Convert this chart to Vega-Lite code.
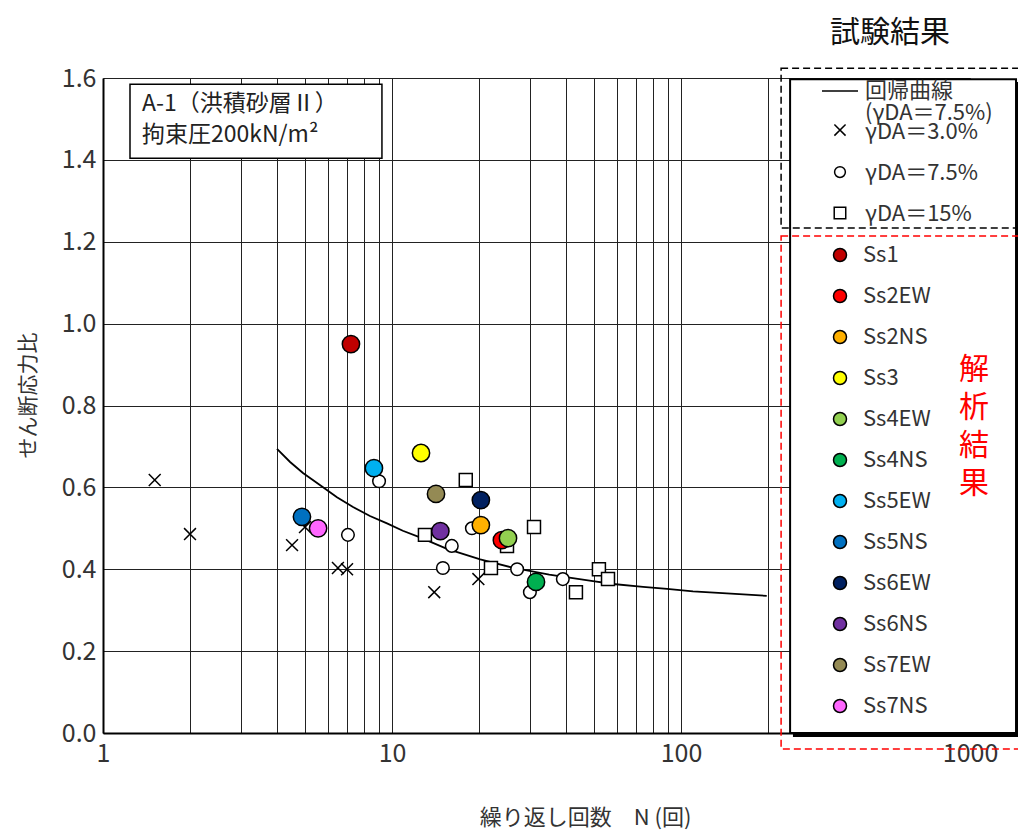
{
  "$schema": "https://vega.github.io/schema/vega-lite/v6.json",
  "width": 867,
  "height": 655,
  "autosize": {"type": "none"},
  "padding": {"left": 103, "top": 78, "right": 48, "bottom": 97},
  "background": "white",
  "config": {"view": {"stroke": null}, "font": "Noto Sans CJK JP"},
  "datasets": {
    "curve": [
      {"N": 4.0, "ratio": 0.694}, {"N": 4.44, "ratio": 0.662}, {"N": 4.92, "ratio": 0.635},
      {"N": 5.63, "ratio": 0.606}, {"N": 6.45, "ratio": 0.576}, {"N": 7.33, "ratio": 0.552},
      {"N": 8.39, "ratio": 0.530}, {"N": 9.61, "ratio": 0.512}, {"N": 10.9, "ratio": 0.494},
      {"N": 12.5, "ratio": 0.478}, {"N": 15.5, "ratio": 0.450}, {"N": 20.2, "ratio": 0.424},
      {"N": 26.1, "ratio": 0.404}, {"N": 35.0, "ratio": 0.387}, {"N": 49.6, "ratio": 0.371},
      {"N": 58.2, "ratio": 0.364}, {"N": 73.9, "ratio": 0.357}, {"N": 89.5, "ratio": 0.352},
      {"N": 110, "ratio": 0.346}, {"N": 144, "ratio": 0.341}, {"N": 198, "ratio": 0.335}
    ],
    "test": [
      {"series": "γDA＝3.0%", "N": 1.51, "ratio": 0.618},
      {"series": "γDA＝3.0%", "N": 2.0, "ratio": 0.486},
      {"series": "γDA＝3.0%", "N": 4.51, "ratio": 0.459},
      {"series": "γDA＝3.0%", "N": 5.0, "ratio": 0.503},
      {"series": "γDA＝3.0%", "N": 6.5, "ratio": 0.403},
      {"series": "γDA＝3.0%", "N": 6.99, "ratio": 0.4},
      {"series": "γDA＝3.0%", "N": 14.0, "ratio": 0.344},
      {"series": "γDA＝3.0%", "N": 19.9, "ratio": 0.376},
      {"series": "γDA＝7.5%", "N": 9.02, "ratio": 0.615},
      {"series": "γDA＝7.5%", "N": 7.04, "ratio": 0.484},
      {"series": "γDA＝7.5%", "N": 15.0, "ratio": 0.403},
      {"series": "γDA＝7.5%", "N": 16.1, "ratio": 0.457},
      {"series": "γDA＝7.5%", "N": 18.9, "ratio": 0.5},
      {"series": "γDA＝7.5%", "N": 27.1, "ratio": 0.4},
      {"series": "γDA＝7.5%", "N": 30.0, "ratio": 0.344},
      {"series": "γDA＝7.5%", "N": 39.0, "ratio": 0.376},
      {"series": "γDA＝15%", "N": 18.0, "ratio": 0.618},
      {"series": "γDA＝15%", "N": 13.0, "ratio": 0.484},
      {"series": "γDA＝15%", "N": 25.0, "ratio": 0.457},
      {"series": "γDA＝15%", "N": 31.0, "ratio": 0.503},
      {"series": "γDA＝15%", "N": 22.0, "ratio": 0.403},
      {"series": "γDA＝15%", "N": 43.3, "ratio": 0.344},
      {"series": "γDA＝15%", "N": 52.0, "ratio": 0.4},
      {"series": "γDA＝15%", "N": 55.9, "ratio": 0.376}
    ],
    "analysis": [
      {"case": "Ss1", "N": 7.21, "ratio": 0.95},
      {"case": "Ss2EW", "N": 24.0, "ratio": 0.471},
      {"case": "Ss2NS", "N": 20.3, "ratio": 0.508},
      {"case": "Ss3", "N": 12.6, "ratio": 0.684},
      {"case": "Ss4EW", "N": 25.2, "ratio": 0.476},
      {"case": "Ss4NS", "N": 31.5, "ratio": 0.369},
      {"case": "Ss5EW", "N": 8.66, "ratio": 0.647},
      {"case": "Ss5NS", "N": 4.88, "ratio": 0.528},
      {"case": "Ss6EW", "N": 20.3, "ratio": 0.569},
      {"case": "Ss6NS", "N": 14.7, "ratio": 0.493},
      {"case": "Ss7EW", "N": 14.2, "ratio": 0.584},
      {"case": "Ss7NS", "N": 5.55, "ratio": 0.5}
    ]
  },
  "layer": [
    {
      "data": {"name": "curve"},
      "mark": {"type": "line", "color": "black", "strokeWidth": 1.8, "clip": false},
      "encoding": {
        "x": {
          "field": "N", "type": "quantitative",
          "scale": {"type": "log", "domain": [1, 1000], "nice": false},
          "axis": {
            "values": [1,2,3,4,5,6,7,8,9,10,20,30,40,50,60,70,80,90,100,200,300,400,500,600,700,800,900,1000],
            "format": "d",
            "labelExpr": "(datum.value == 1 || datum.value == 10 || datum.value == 100 || datum.value == 1000) ? datum.label : ''",
            "labelOverlap": false,
            "labelFlush": false,
            "labelFontSize": 25,
            "labelColor": "#333",
            "labelPadding": 8,
            "ticks": false,
            "grid": true,
            "gridColor": "#222",
            "gridWidth": 1,
            "domainColor": "black",
            "domainWidth": 2,
            "title": "繰り返し回数　N (回)",
            "titleFontSize": 22,
            "titleFontWeight": "normal",
            "titleColor": "#333",
            "titleX": 482,
            "titleY": 84,
            "titleBaseline": "middle",
            "titleAlign": "center"
          }
        },
        "y": {
          "field": "ratio", "type": "quantitative",
          "scale": {"domain": [0, 1.6], "nice": false},
          "axis": {
            "values": [0, 0.2, 0.4, 0.6, 0.8, 1.0, 1.2, 1.4, 1.6],
            "format": ".1f",
            "labelFontSize": 25,
            "labelColor": "#333",
            "labelPadding": 7,
            "ticks": false,
            "grid": true,
            "gridColor": "#222",
            "gridWidth": 1,
            "domainColor": "black",
            "domainWidth": 2,
            "title": "せん断応力比",
            "titleFontSize": 21,
            "titleFontWeight": "normal",
            "titleColor": "#333",
            "titleX": -75,
            "titleY": 317,
            "titleBaseline": "middle",
            "titleAlign": "center"
          }
        }
      }
    },
    {
      "data": {"values": [{}]},
      "mark": {"type": "rect", "fill": "black", "clip": false},
      "encoding": {
        "x": {"datum": 244, "type": "quantitative"},
        "x2": {"datum": 1600},
        "y": {"datum": -0.0098, "type": "quantitative"},
        "y2": {"datum": 1.59}
      }
    },
    {
      "data": {"values": [{}]},
      "mark": {"type": "rect", "fill": "white", "stroke": "black", "strokeWidth": 2, "clip": false},
      "encoding": {
        "x": {"datum": 238.5, "type": "quantitative"},
        "x2": {"datum": 1443},
        "y": {"datum": 0, "type": "quantitative"},
        "y2": {"datum": 1.597}
      }
    },
    {
      "data": {"values": [{}]},
      "mark": {"type": "rect", "fill": "white", "stroke": "black", "strokeWidth": 1.5, "clip": false},
      "encoding": {
        "x": {"datum": 1.24, "type": "quantitative"},
        "x2": {"datum": 9.23},
        "y": {"datum": 1.404, "type": "quantitative"},
        "y2": {"datum": 1.585}
      }
    },
    {
      "data": {"values": [{}]},
      "mark": {"type": "text", "align": "left", "baseline": "middle", "fontSize": 23, "lineHeight": 31, "color": "#222", "clip": false},
      "encoding": {
        "x": {"datum": 1.364, "type": "quantitative"},
        "y": {"datum": 1.536, "type": "quantitative"},
        "text": {"value": ["A-1（洪積砂層Ⅱ）", "拘束圧200kN/m²"]}
      }
    },
    {
      "data": {"name": "test"},
      "transform": [{"filter": "datum.series == 'γDA＝3.0%'"}],
      "mark": {"type": "point", "shape": "M-0.33,-0.33L0.33,0.33M0.33,-0.33L-0.33,0.33", "filled": false, "fill": "white", "strokeWidth": 1.5, "size": 1296, "opacity": 1, "clip": false},
      "encoding": {
        "x": {"field": "N", "type": "quantitative"},
        "y": {"field": "ratio", "type": "quantitative"},
        "stroke": {
          "field": "series", "type": "nominal",
          "scale": {
            "domain": ["回帰曲線", "γDA＝3.0%", "γDA＝7.5%", "γDA＝15%"],
            "range": ["black", "black", "black", "black"]
          },
          "legend": {
            "orient": "none", "legendX": 718, "legendY": -6, "title": null,
            "direction": "vertical", "columns": 1,
            "labelFontSize": 22, "labelColor": "#333", "labelOffset": 6,
            "symbolSize": 1296, "symbolStrokeWidth": 1.5, "symbolFillColor": "white",
            "symbolType": "M0,0", "symbolOpacity": 0,
            "rowPadding": 11, "padding": 0, "zindex": 1
          }
        }
      }
    },
    {
      "data": {"name": "test"},
      "transform": [{"filter": "datum.series == 'γDA＝7.5%'"}],
      "mark": {"type": "point", "shape": "M0.35,0A0.35,0.35,0,1,1,-0.35,0A0.35,0.35,0,1,1,0.35,0Z", "filled": false, "fill": "white", "strokeWidth": 1.5, "size": 1296, "opacity": 1, "clip": false},
      "encoding": {
        "x": {"field": "N", "type": "quantitative"},
        "y": {"field": "ratio", "type": "quantitative"},
        "stroke": {"field": "series", "type": "nominal"}
      }
    },
    {
      "data": {"name": "test"},
      "transform": [{"filter": "datum.series == 'γDA＝15%'"}],
      "mark": {"type": "point", "shape": "M-0.36,-0.36H0.36V0.36H-0.36Z", "filled": false, "fill": "white", "strokeWidth": 1.5, "size": 1296, "opacity": 1, "clip": false},
      "encoding": {
        "x": {"field": "N", "type": "quantitative"},
        "y": {"field": "ratio", "type": "quantitative"},
        "stroke": {"field": "series", "type": "nominal"}
      }
    },
    {
      "data": {"name": "analysis"},
      "mark": {"type": "point", "shape": "circle", "filled": true, "stroke": "black", "strokeWidth": 1.5, "size": 300, "opacity": 1, "clip": false},
      "encoding": {
        "x": {"field": "N", "type": "quantitative"},
        "y": {"field": "ratio", "type": "quantitative"},
        "fill": {
          "field": "case", "type": "nominal",
          "scale": {
            "domain": ["Ss1", "Ss2EW", "Ss2NS", "Ss3", "Ss4EW", "Ss4NS", "Ss5EW", "Ss5NS", "Ss6EW", "Ss6NS", "Ss7EW", "Ss7NS"],
            "range": ["#C00000", "#FF0000", "#FFB000", "#FFFF00", "#92D050", "#00B050", "#00B0F0", "#0070C0", "#002060", "#7030A0", "#948A54", "#FF66FF"]
          },
          "legend": {
            "orient": "none", "legendX": 726, "legendY": 166, "title": null,
            "labelFontSize": 22, "labelColor": "#333", "labelOffset": 12,
            "symbolSize": 169, "symbolStrokeColor": "black", "symbolStrokeWidth": 1.5, "symbolType": "circle",
            "rowPadding": 19, "padding": 0, "zindex": 1
          }
        }
      }
    },
    {
      "data": {"values": [{}]},
      "mark": {"type": "rule", "stroke": "black", "strokeWidth": 1.5, "clip": false},
      "encoding": {
        "x": {"datum": 307.5, "type": "quantitative"},
        "x2": {"datum": 409.7},
        "y": {"datum": 1.5681, "type": "quantitative"}
      }
    },
    {
      "data": {"values": [{}]},
      "mark": {"type": "point", "shape": "M-0.31,-0.31L0.31,0.31M0.31,-0.31L-0.31,0.31", "filled": false, "fill": "white", "stroke": "black", "strokeWidth": 1.5, "size": 1296, "opacity": 1, "clip": false},
      "encoding": {
        "x": {"datum": 354.9, "type": "quantitative"},
        "y": {"datum": 1.4729, "type": "quantitative"}
      }
    },
    {
      "data": {"values": [{}]},
      "mark": {"type": "point", "shape": "M0.3,0A0.3,0.3,0,1,1,-0.3,0A0.3,0.3,0,1,1,0.3,0Z", "filled": false, "fill": "white", "stroke": "black", "strokeWidth": 1.5, "size": 1296, "opacity": 1, "clip": false},
      "encoding": {
        "x": {"datum": 354.9, "type": "quantitative"},
        "y": {"datum": 1.3703, "type": "quantitative"}
      }
    },
    {
      "data": {"values": [{}]},
      "mark": {"type": "point", "shape": "M-0.32,-0.32H0.32V0.32H-0.32Z", "filled": false, "fill": "white", "stroke": "black", "strokeWidth": 1.5, "size": 1296, "opacity": 1, "clip": false},
      "encoding": {
        "x": {"datum": 354.9, "type": "quantitative"},
        "y": {"datum": 1.2702, "type": "quantitative"}
      }
    },
    {
      "data": {"values": [{}]},
      "mark": {"type": "rect", "filled": false, "stroke": "black", "strokeWidth": 1.5, "strokeDash": [7, 4], "clip": false},
      "encoding": {
        "x": {"datum": 222, "type": "quantitative"},
        "x2": {"datum": 2000},
        "y": {"datum": 1.2335, "type": "quantitative"},
        "y2": {"datum": 1.624}
      }
    },
    {
      "data": {"values": [{}]},
      "mark": {"type": "rect", "filled": false, "stroke": "#FF0000", "strokeWidth": 1.5, "strokeDash": [7, 4], "clip": false},
      "encoding": {
        "x": {"datum": 222, "type": "quantitative"},
        "x2": {"datum": 2000},
        "y": {"datum": -0.039, "type": "quantitative"},
        "y2": {"datum": 1.214}
      }
    },
    {
      "data": {"values": [{}]},
      "mark": {"type": "text", "align": "center", "baseline": "middle", "fontSize": 30, "color": "#111", "clip": false},
      "encoding": {
        "x": {"datum": 529, "type": "quantitative"},
        "y": {"datum": 1.71, "type": "quantitative"},
        "text": {"value": "試験結果"}
      }
    },
    {
      "data": {"values": [{}]},
      "mark": {"type": "text", "align": "center", "baseline": "middle", "fontSize": 30, "lineHeight": 38, "color": "#FF0000", "clip": false},
      "encoding": {
        "x": {"datum": 1032, "type": "quantitative"},
        "y": {"datum": 0.887, "type": "quantitative"},
        "text": {"value": ["解", "析", "結", "果"]}
      }
    },
    {
      "data": {"values": [{}]},
      "mark": {"type": "text", "align": "left", "baseline": "middle", "fontSize": 22, "color": "#333", "clip": false},
      "encoding": {
        "x": {"datum": 433, "type": "quantitative"},
        "y": {"datum": 1.514, "type": "quantitative"},
        "text": {"value": "(γDA＝7.5%)"}
      }
    }
  ]
}
